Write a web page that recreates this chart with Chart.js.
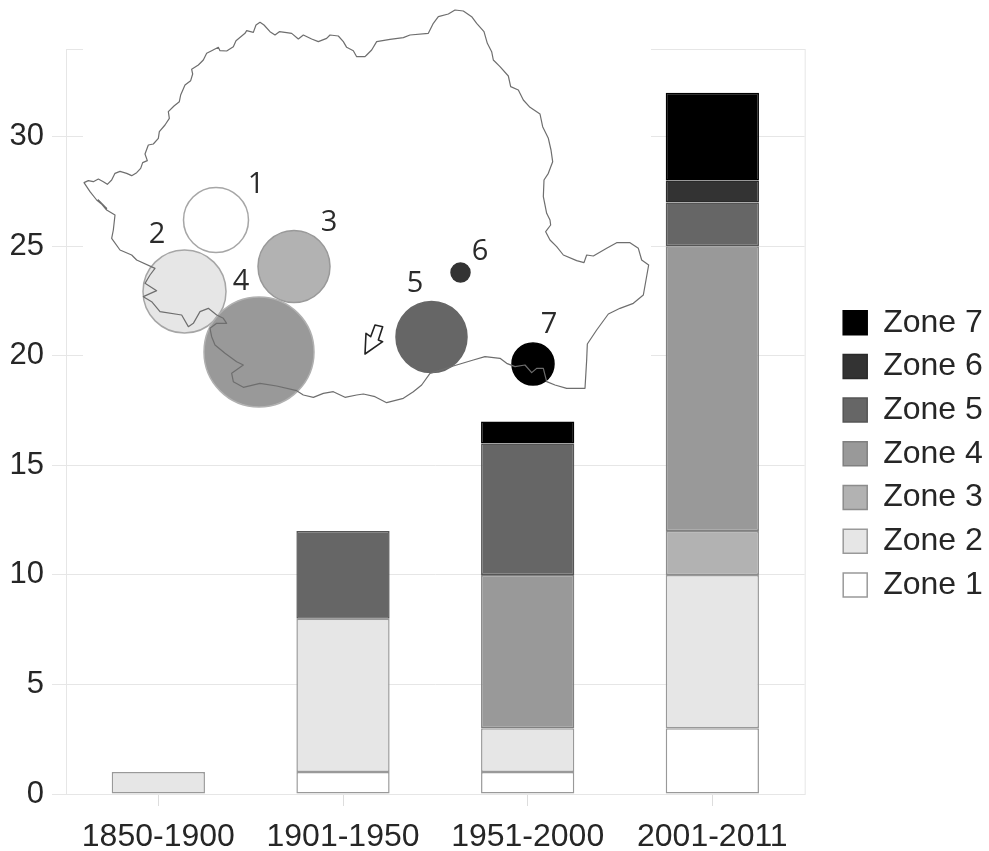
<!DOCTYPE html>
<html>
<head>
<meta charset="utf-8">
<script src="https://cdn.jsdelivr.net/npm/chart.js@4"></script>
<style>
    html, body { margin: 0; padding: 0; background: #fff; }
</style>
</head>
<body>
<div style="position: relative; width: 989px; height: 851px;">
    <canvas id="chart"></canvas>
</div>
<script>
const periods = ["1850-1900", "1901-1950", "1951-2000", "2001-2011"]
const zone1 = [null, 1, 1, 3]
const zone2 = [1, 7, 2, 7]
const zone3 = [null, null, null, 2]
const zone4 = [null, null, 7, 13]
const zone5 = [null, 4, 6, 2]
const zone6 = [null, null, null, 1]
const zone7 = [null, null, 1, 4]
const yMax = 34
const yStep = 5

const fills = ["#ffffff", "#e6e6e6", "#b2b2b2", "#999999", "#666666", "#333333", "#000000"]
const edges = ["#999999", "#999999", "#8c8c8c", "#808080", "#555555", "#2a2a2a", "#000000"]
const textColor = "#262626"
const sansFont = "'Liberation Sans', Arial, sans-serif"

const fromCrop = (pts, ox, oy) => pts.map(([x, y]) => [x / 3 + ox, y / 3 + oy])
const mapOutline = [
    ...fromCrop([[42,548],[55,542],[70,545],[85,537],[100,545],[112,553],[125,540],[135,520],[150,514],[170,520],
        [185,527],[200,518],[212,505],[218,488],[232,482],[225,462],[235,435],[250,432],[265,415],[268,395],
        [285,375],[298,355],[295,335],[312,318],[328,305],[332,285],[345,255],[362,242],[368,222],[365,208],
        [385,195],[400,180],[410,160],[425,152],[445,142],[450,152],[470,153],[490,140],[498,122],[525,100],
        [530,92],[550,97],[558,75],[570,67],[582,75],[600,95],[615,105],[628,95],[650,98],[665,100],
        [685,117],[700,105],[725,117],[745,125],[770,115],[780,105],[805,108],[820,125],[830,142],[850,152],
        [860,170],[885,170]], 70, 0),
    ...fromCrop([[20,165],[35,150],[50,125],[90,118],[130,113],[150,105],[205,100],[220,70],[235,50],[265,42],
        [285,30],[310,33],[335,50],[350,70],[372,95],[382,130],[395,155],[400,180],[420,200],[445,228],
        [452,260],[475,270],[490,300],[510,322],[540,342],[548,380],[565,415],[573,450],[578,485],[565,520],
        [552,540],[550,590],[560,640]], 360, 0),
    ...fromCrop([[570,60],[572,75],[557,95],[570,120],[590,140],[610,165],[650,182],[672,188],[680,165],[700,168],
        [740,145],[770,128],[810,128],[835,145],[845,180],[866,195],[858,240],[850,285],[820,310],[780,325],
        [745,342],[710,390],[682,432],[680,480],[675,565],[620,565],[585,555],[560,545],[550,505],[530,505],
        [515,518],[495,495],[465,500],[440,490],[420,475],[375,470],[340,480],[280,498],[210,520],[185,555],
        [160,575],[130,595],[80,608],[45,590]], 360, 200),
    ...fromCrop([[880,582],[860,585],[825,592],[790,575],[760,580],[730,592],[700,585],[680,572],[620,558],[570,550],
        [520,562],[490,545],[485,520],[520,495],[500,485],[465,460],[435,435],[425,410],[420,385],[440,370],
        [470,370],[460,355],[440,345],[415,325],[390,335],[370,370],[355,380],[335,345],[270,335],[245,305],
        [220,290],[260,272],[225,250],[240,225],[255,205],[200,180],[185,165],[150,150],[125,115],[130,90],
        [135,45],[110,30],[85,0]], 70, 200),
    ...fromCrop([[110,625],[80,600],[60,575]], 70, 0)
]
const mapCircles = [
    [216, 220, 32.5, "#ffffff", "#a6a6a6"],
    [184.5, 291.5, 41.5, "#e6e6e6", "#a6a6a6"],
    [294, 266.5, 36, "#b2b2b2", "#999999"],
    [259, 352, 55, "#999999", "#b0b0b0"],
    [431.5, 337, 35.5, "#666666", "#666666"],
    [460.5, 272.5, 9.5, "#333333", "#333333"],
    [533, 364, 21, "#000000", "#000000"]
]
const mapNumbers = [
    ["1", 256, 185], ["2", 157, 235], ["3", 329, 223], ["4", 241, 282],
    ["5", 415, 284], ["6", 480, 252], ["7", 549, 325]
]
const mapArrow = fromCrop([[15,462],[18,400],[32,410],[45,375],[68,380],[55,420],[68,425]], 360, 200)

const frameAndMap = {
    id: "frameAndMap",
    afterLayout(chart){
        // legend sits lower than the centred spot the library gives it
        chart.legend.left = 831.5
        chart.legend.right = 989
        chart.legend.top = 295
        chart.legend.bottom = 622
    },
    afterDatasetsDraw(chart){
        const ctx = chart.ctx
        const area = chart.chartArea
        ctx.save()
        ctx.strokeStyle = "#e6e6e6"
        ctx.lineWidth = 1
        ctx.strokeRect(area.left + 0.5, area.top + 0.5, area.right - area.left, area.bottom - area.top)

        // the map image hides the grid behind it
        ctx.fillStyle = "#ffffff"
        ctx.fillRect(83, 0, 568, 418)

        mapCircles.forEach(([x, y, r, fill, edge]) => {
            ctx.beginPath()
            ctx.arc(x, y, r, 0, Math.PI * 2)
            ctx.fillStyle = fill
            ctx.fill()
            ctx.strokeStyle = edge
            ctx.lineWidth = 1.5
            ctx.stroke()
        })

        ctx.beginPath()
        mapOutline.forEach(([x, y], i) => i ? ctx.lineTo(x, y) : ctx.moveTo(x, y))
        ctx.closePath()
        ctx.strokeStyle = "#6e6e6e"
        ctx.lineWidth = 1.2
        ctx.lineJoin = "round"
        ctx.stroke()

        ctx.beginPath()
        mapArrow.forEach(([x, y], i) => i ? ctx.lineTo(x, y) : ctx.moveTo(x, y))
        ctx.closePath()
        ctx.fillStyle = "#ffffff"
        ctx.fill()
        ctx.strokeStyle = "#222222"
        ctx.lineWidth = 1.6
        ctx.stroke()

        ctx.fillStyle = "#2b2b2b"
        ctx.font = "29px 'Open Sans', sans-serif"
        ctx.textAlign = "center"
        ctx.textBaseline = "middle"
        mapNumbers.forEach(([label, x, y]) => ctx.fillText(label, x, y))
        ctx.restore()
    }
}

const zones = [zone1, zone2, zone3, zone4, zone5, zone6, zone7]
const datasets = zones.map((values, i) => ({
    label: "Zone " + (i + 1),
    data: values,
    backgroundColor: fills[i],
    borderColor: edges[i],
    borderWidth: 1.5,
    borderSkipped: false,
    barPercentage: 0.505,
    categoryPercentage: 1
}))

new Chart(document.getElementById("chart").getContext("2d"), {
    type: "bar",
    data: { labels: periods, datasets: datasets },
    plugins: [frameAndMap],
    options: {
        responsive: true,
        maintainAspectRatio: false,
        animation: false,
        layout: { padding: { top: 49, right: 23, left: 0, bottom: 0 } },
        plugins: {
            title: { display: false },
            tooltip: { enabled: false },
            legend: {
                position: "right",
                align: "start",
                reverse: true,
                labels: {
                    boxWidth: 24,
                    boxHeight: 24,
                    padding: 11.7,
                    color: textColor,
                    font: { family: sansFont, size: 32 }
                }
            }
        },
        scales: {
            x: {
                stacked: true,
                afterFit(axis){ axis.height = 57 },
                grid: { offset: false, drawOnChartArea: false, color: "#dddddd", tickLength: 12 },
                border: { display: false },
                ticks: {
                    color: textColor,
                    font: { family: sansFont, size: 32 },
                    padding: 12,
                    autoSkip: false,
                    maxRotation: 0
                }
            },
            y: {
                stacked: true,
                min: 0,
                max: yMax,
                afterFit(axis){ axis.width = 66 },
                grid: { color: "#e6e6e6", tickLength: 14 },
                border: { display: false },
                ticks: {
                    stepSize: yStep,
                    includeBounds: false,
                    color: textColor,
                    font: { family: sansFont, size: 31 },
                    padding: 8
                }
            }
        }
    }
})
</script>
</body>
</html>
